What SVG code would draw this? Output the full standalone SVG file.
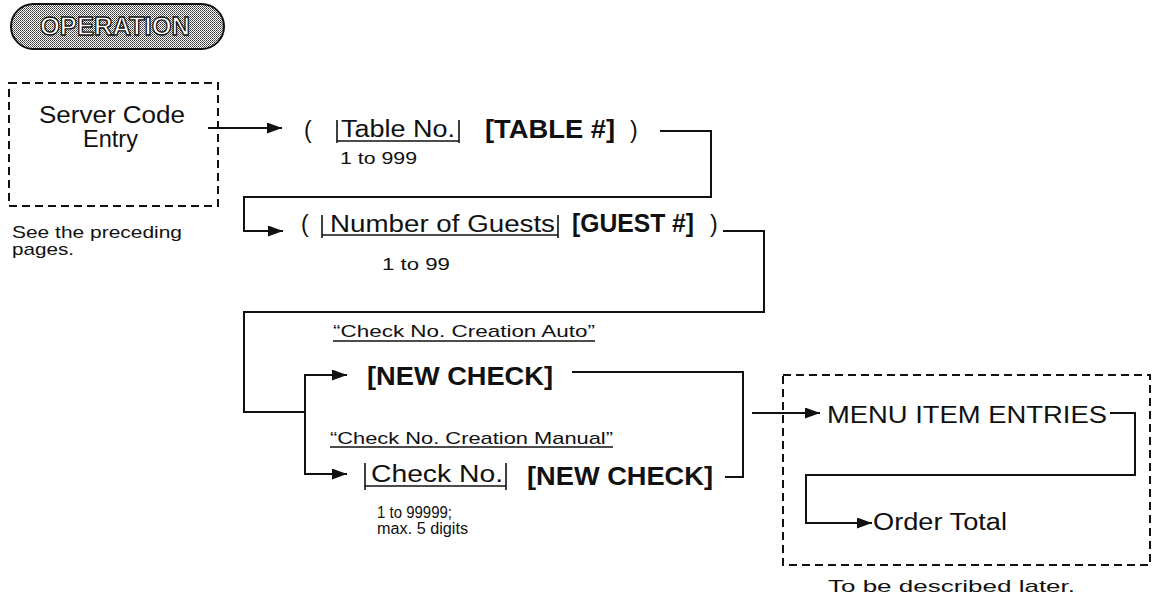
<svg xmlns="http://www.w3.org/2000/svg" width="1155" height="599" viewBox="0 0 1155 599">
<style>
text{font-family:"Liberation Sans",Arial,Helvetica,sans-serif;fill:#111;}
.big{font-size:23px;}
.small{font-size:17px;}
.tiny{font-size:16px;}
.bold{font-size:25px;font-weight:bold;}
.ln{fill:none;stroke:#111;stroke-width:2;}
.dash{fill:none;stroke:#111;stroke-width:2;stroke-dasharray:8 5;}
.bar{fill:none;stroke:#111;stroke-width:1.6;}
</style>
<defs>
<marker id="ah" markerUnits="userSpaceOnUse" markerWidth="15" markerHeight="11" refX="15" refY="5.5" orient="auto">
<path d="M0,0 L15,5.5 L0,11 z" fill="#111"/>
</marker>
<pattern id="dots" width="2" height="2" patternUnits="userSpaceOnUse">
<rect width="2" height="2" fill="#fff"/>
<rect width="1" height="1" fill="#333"/>
<rect x="1" y="1" width="1" height="1" fill="#666"/>
</pattern>
</defs>
<rect width="1155" height="599" fill="#fff"/>

<g id="title">
<rect x="11" y="4" width="213" height="45" rx="22.5" ry="22.5" fill="url(#dots)" stroke="#111" stroke-width="2"/>
<text x="40" y="35" font-size="26" textLength="150" lengthAdjust="spacingAndGlyphs" style="fill:#fff;stroke:#111;stroke-width:1.3;font-weight:bold">OPERATION</text>
</g>

<g id="server-code">
<rect x="9" y="83" width="209" height="123" class="dash"/>
<text class="big" x="39" y="123" textLength="146" lengthAdjust="spacingAndGlyphs">Server Code</text>
<text class="big" x="83" y="147" textLength="55" lengthAdjust="spacingAndGlyphs">Entry</text>
<text class="small" x="12" y="238" textLength="170" lengthAdjust="spacingAndGlyphs">See the preceding</text>
<text class="small" x="12" y="255" textLength="62" lengthAdjust="spacingAndGlyphs">pages.</text>
</g>

<g id="table-entry">
<text class="big" x="304" y="138">(</text>
<line x1="337" y1="120" x2="337" y2="143" class="bar"/>
<line x1="459" y1="120" x2="459" y2="143" class="bar"/>
<line x1="337" y1="141" x2="459" y2="141" class="bar"/>
<text class="big" x="341" y="137" textLength="114" lengthAdjust="spacingAndGlyphs">Table No.</text>
<text class="small" x="340" y="164" textLength="77" lengthAdjust="spacingAndGlyphs">1 to 999</text>
<text class="bold" x="485" y="138" textLength="130" lengthAdjust="spacingAndGlyphs">[TABLE #]</text>
<text class="big" x="630" y="138">)</text>
</g>

<g id="guest-entry">
<text class="big" x="301" y="232">(</text>
<line x1="322" y1="215" x2="322" y2="238" class="bar"/>
<line x1="558" y1="215" x2="558" y2="238" class="bar"/>
<line x1="322" y1="235" x2="558" y2="235" class="bar"/>
<text class="big" x="330" y="232" textLength="225" lengthAdjust="spacingAndGlyphs">Number of Guests</text>
<text class="small" x="382" y="270" textLength="68" lengthAdjust="spacingAndGlyphs">1 to 99</text>
<text class="bold" x="572" y="232" textLength="122" lengthAdjust="spacingAndGlyphs">[GUEST #]</text>
<text class="big" x="710" y="232">)</text>
</g>

<g id="new-check-auto">
<text class="small" x="333" y="337" textLength="262" lengthAdjust="spacingAndGlyphs">“Check No. Creation Auto”</text>
<line x1="333" y1="341" x2="595" y2="341" class="bar"/>
<text class="bold" x="367" y="385" textLength="186" lengthAdjust="spacingAndGlyphs">[NEW CHECK]</text>
</g>

<g id="new-check-manual">
<text class="small" x="330" y="444" textLength="283" lengthAdjust="spacingAndGlyphs">“Check No. Creation Manual”</text>
<line x1="330" y1="447" x2="613" y2="447" class="bar"/>
<line x1="365" y1="463" x2="365" y2="490" class="bar"/>
<line x1="506" y1="463" x2="506" y2="490" class="bar"/>
<line x1="365" y1="486" x2="506" y2="486" class="bar"/>
<text class="big" x="371" y="482" textLength="132" lengthAdjust="spacingAndGlyphs">Check No.</text>
<text class="bold" x="527" y="485" textLength="186" lengthAdjust="spacingAndGlyphs">[NEW CHECK]</text>
<text class="tiny" x="377" y="518" textLength="75" lengthAdjust="spacingAndGlyphs">1 to 99999;</text>
<text class="tiny" x="377" y="534" textLength="91" lengthAdjust="spacingAndGlyphs">max. 5 digits</text>
</g>

<g id="later">
<rect x="783" y="375" width="367" height="190" class="dash"/>
<text class="big" x="827" y="423" textLength="280" lengthAdjust="spacingAndGlyphs">MENU ITEM ENTRIES</text>
<text class="big" x="873" y="530" textLength="134" lengthAdjust="spacingAndGlyphs">Order Total</text>
<text class="small" x="828" y="592" textLength="247" lengthAdjust="spacingAndGlyphs">To be described later.</text>
</g>

<g id="connectors">
<line x1="208" y1="128" x2="282" y2="128" class="ln" marker-end="url(#ah)"/>
<polyline points="660,131 711,131 711,197 244,197 244,231 283,231" class="ln" marker-end="url(#ah)"/>
<polyline points="723,231 764,231 764,312 244,312 244,412 305,412" class="ln"/>
<line x1="305" y1="374" x2="305" y2="475" class="ln"/>
<line x1="304" y1="375" x2="347" y2="375" class="ln" marker-end="url(#ah)"/>
<line x1="304" y1="474" x2="347" y2="474" class="ln" marker-end="url(#ah)"/>
<polyline points="572,372 743,372 743,477 725,477" class="ln"/>
<line x1="752" y1="413" x2="820" y2="413" class="ln" marker-end="url(#ah)"/>
<polyline points="1110,413 1135,413 1135,475 806,475 806,523 872,523" class="ln" marker-end="url(#ah)"/>
</g>
</svg>
